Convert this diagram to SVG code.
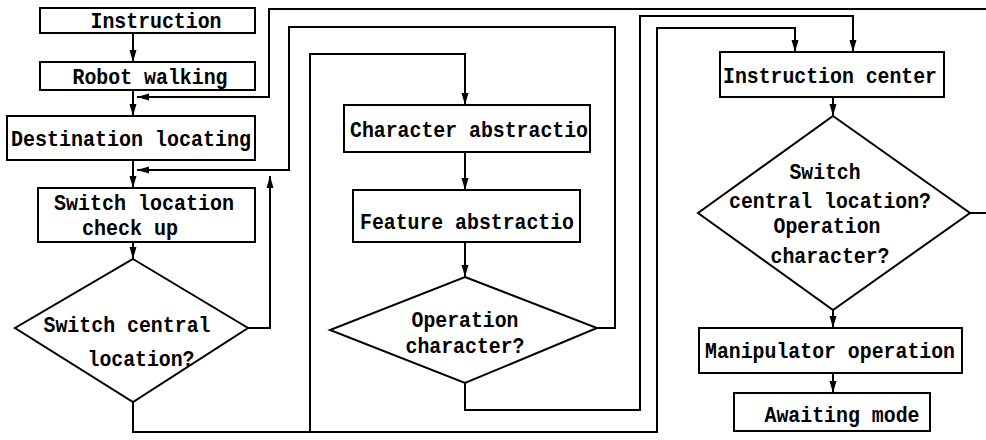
<svg xmlns="http://www.w3.org/2000/svg" width="986" height="440" viewBox="0 0 986 440">
<defs>
<marker id="ah" markerUnits="userSpaceOnUse" markerWidth="12" markerHeight="8" refX="12" refY="4" orient="auto">
<path d="M0,0.5 L12,4 L0,7.5 z" fill="#000"/>
</marker>
<style>
.box{fill:#fff;stroke:#000;stroke-width:2}
.c{fill:none;stroke:#000;stroke-width:2}
.a{marker-end:url(#ah)}
text{font-family:"Liberation Mono","DejaVu Sans Mono",monospace;font-size:22px;font-weight:bold;fill:#000;text-anchor:middle}
</style>
</defs>
<rect width="986" height="440" fill="#fff"/>
<g id="connectors">
<path class="c a" d="M133,33 V62"/>
<path class="c a" d="M133,90 V116"/>
<path class="c a" d="M133,160 V188"/>
<path class="c a" d="M133,242 V259"/>
<path class="c a" d="M248,328 H270 V176"/>
<path class="c a" d="M133,402 V432 H657 V28 H795 V52"/>
<path class="c a" d="M310,432 V54 H465 V105"/>
<path class="c a" d="M465,152 V190"/>
<path class="c a" d="M465,242 V277"/>
<path class="c a" d="M597,328 H615 V27 H289 V170 H137"/>
<path class="c a" d="M465,383 V410 H640 V16 H853 V52"/>
<path class="c a" d="M833,97 V116"/>
<path class="c" d="M970,213 H986"/>
<path class="c a" d="M986,9 H269 V97 H137"/>
<path class="c a" d="M833,310 V328"/>
<path class="c a" d="M833,373 V393"/>
</g>
<g id="instruction">
<rect class="box" x="40" y="8" width="215" height="25"/>
<text x="156" y="28" textLength="131" lengthAdjust="spacingAndGlyphs">Instruction</text>
</g>
<g id="robot-walking">
<rect class="box" x="40" y="62" width="215" height="28"/>
<text x="150" y="84" textLength="155" lengthAdjust="spacingAndGlyphs">Robot walking</text>
</g>
<g id="destination-locating">
<rect class="box" x="7" y="116" width="248" height="44"/>
<text x="131" y="146" textLength="240" lengthAdjust="spacingAndGlyphs">Destination locating</text>
</g>
<g id="switch-location-check">
<rect class="box" x="38" y="188" width="217" height="54"/>
<text x="144" y="210" textLength="180" lengthAdjust="spacingAndGlyphs">Switch location</text>
<text x="130" y="235" textLength="96" lengthAdjust="spacingAndGlyphs">check up</text>
</g>
<g id="switch-central-decision">
<polygon class="box" points="133,259 248,328 133,402 15,328"/>
<text x="127" y="332" textLength="167" lengthAdjust="spacingAndGlyphs">Switch central</text>
<text x="141" y="366" textLength="107" lengthAdjust="spacingAndGlyphs">location?</text>
</g>
<g id="character-abstraction">
<rect class="box" x="344" y="105" width="246" height="47"/>
<text x="469" y="137" textLength="238" lengthAdjust="spacingAndGlyphs">Character abstractio</text>
</g>
<g id="feature-abstraction">
<rect class="box" x="353" y="190" width="227" height="52"/>
<text x="467" y="229" textLength="214" lengthAdjust="spacingAndGlyphs">Feature abstractio</text>
</g>
<g id="operation-decision">
<polygon class="box" points="465,277 597,328 465,383 330,330"/>
<text x="465" y="327" textLength="107" lengthAdjust="spacingAndGlyphs">Operation</text>
<text x="465" y="353" textLength="119" lengthAdjust="spacingAndGlyphs">character?</text>
</g>
<g id="instruction-center">
<rect class="box" x="720" y="52" width="224" height="45"/>
<text x="830" y="83" textLength="214" lengthAdjust="spacingAndGlyphs">Instruction center</text>
</g>
<g id="central-decision">
<polygon class="box" points="833,116 970,213 833,310 698,213"/>
<text x="825" y="179" textLength="71" lengthAdjust="spacingAndGlyphs">Switch</text>
<text x="830" y="208" textLength="202" lengthAdjust="spacingAndGlyphs">central location?</text>
<text x="827" y="233" textLength="107" lengthAdjust="spacingAndGlyphs">Operation</text>
<text x="830" y="263" textLength="119" lengthAdjust="spacingAndGlyphs">character?</text>
</g>
<g id="manipulator-operation">
<rect class="box" x="699" y="328" width="263" height="45"/>
<text x="830" y="358" textLength="250" lengthAdjust="spacingAndGlyphs">Manipulator operation</text>
</g>
<g id="awaiting-mode">
<rect class="box" x="734" y="393" width="196" height="38"/>
<text x="842" y="422" textLength="155" lengthAdjust="spacingAndGlyphs">Awaiting mode</text>
</g>
</svg>
